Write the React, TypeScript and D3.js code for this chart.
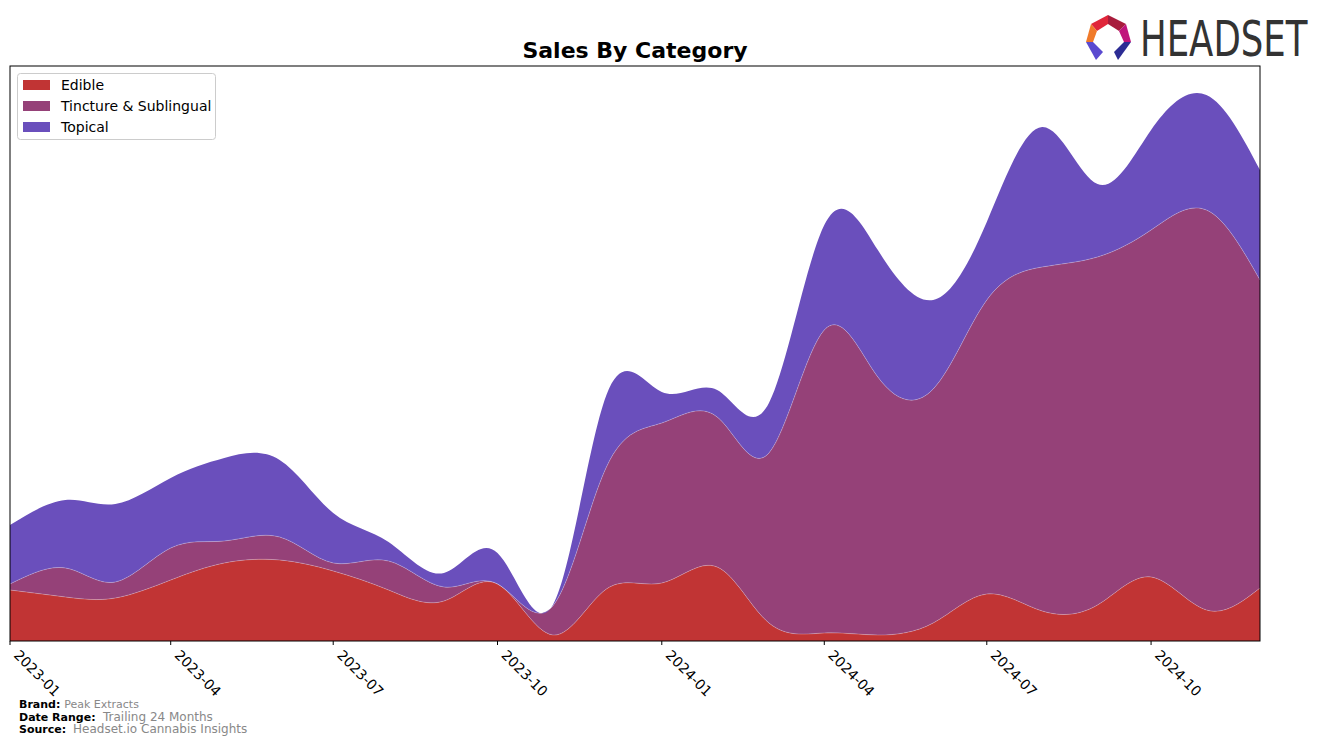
import React from "react";
import * as d3 from "d3";

const months = [
  "2023-01","2023-02","2023-03","2023-04","2023-05","2023-06","2023-07","2023-08","2023-09","2023-10","2023-11","2023-12",
  "2024-01","2024-02","2024-03","2024-04","2024-05","2024-06","2024-07","2024-08","2024-09","2024-10","2024-11","2024-12",
];
const categories = ["Edible", "Tincture & Sublingual", "Topical"];
const edible = [51, 44, 43, 61, 78, 81, 70, 51, 40, 57, 6, 52, 58, 74, 18, 8, 6, 18, 47, 30, 36, 64, 31, 53];
const tincture = [6, 29, 16, 32, 22, 23, 8, 29, 14, 0, 29, 122, 160, 150, 170, 303, 258, 234, 294, 344, 348, 347, 400, 308];
const topical = [59, 68, 78, 70, 83, 77, 50, 19, 14, 31, 1, 72, 31, 27, 50, 105, 127, 89, 78, 140, 73, 100, 115, 110];
const tickLabels = ["2023-01","2023-04","2023-07","2023-10","2024-01","2024-04","2024-07","2024-10"];
const colors = ["#c13434", "#954178", "#6a4fbc"];

const parse = d3.timeParse("%Y-%m");

export default function App() {
  const left = 10, right = 1260, top = 66, bottom = 641;
  const dates = months.map((m) => parse(m) as Date);
  const x = d3.scaleTime().domain([dates[0], dates[dates.length - 1]]).range([left, right]);
  const y = d3.scaleLinear().domain([0, 575]).range([bottom, top]);

  const rows = months.map((m, i) => ({ date: dates[i], e: edible[i], t: tincture[i], p: topical[i] }));
  const stack = d3.stack<any>().keys(["e", "t", "p"]);
  const series = stack(rows);
  const area = d3
    .area<any>()
    .x((d) => x(d.data.date))
    .y0((d) => y(d[0]))
    .y1((d) => y(d[1]))
    .curve(d3.curveNatural);
  const line = d3
    .line<any>()
    .x((d) => x(d.data.date))
    .y((d) => y(d[1]))
    .curve(d3.curveNatural);

  const font = "'DejaVu Sans', sans-serif";

  return (
    <svg width={1324} height={745} style={{ position: "absolute", left: 0, top: 0, background: "#fff" }} fontFamily={font}>
      <defs>
        <clipPath id="plot">
          <rect x={left} y={top} width={right - left} height={bottom - top} />
        </clipPath>
      </defs>
      <text x={635} y={58} textAnchor="middle" fontSize={22} fontWeight="bold" fill="#000">
        Sales By Category
      </text>
      <g clipPath="url(#plot)">
        {series.map((s, i) => (
          <path key={i} d={area(s) || ""} fill={colors[i]} />
        ))}
        {series.slice(0, 2).map((s, i) => (
          <path key={"l" + i} d={line(s) || ""} fill="none" stroke="#ffffff" strokeOpacity={0.3} strokeWidth={0.8} />
        ))}
      </g>
      <rect x={left} y={top} width={right - left} height={bottom - top} fill="none" stroke="#000" strokeWidth={1} />
      {tickLabels.map((t) => {
        const tx = x(parse(t) as Date);
        return (
          <g key={t}>
            <line x1={tx} x2={tx} y1={bottom} y2={bottom + 4} stroke="#000" />
            <text x={0} y={0} fontSize={14} transform={`translate(${tx + 3}, ${bottom + 15}) rotate(45)`} fill="#000">
              {t}
            </text>
          </g>
        );
      })}
      <g>
        <rect x={17.5} y={73.5} width={198} height={66} rx={3} fill="#fff" fillOpacity={0.8} stroke="#ccc" />
        {categories.map((c, i) => (
          <g key={c}>
            <rect x={23} y={80 + i * 21} width={27} height={10} fill={colors[i]} />
            <text x={61} y={90 + i * 21} fontSize={14} fill="#000">
              {c}
            </text>
          </g>
        ))}
      </g>
      <g>
        <text x={19} y={708} fontSize={11} fontWeight="bold" fill="#000">
          Brand: <tspan fontWeight="normal" fill="#888">Peak Extracts</tspan>
        </text>
        <text x={19} y={721} fontSize={11} fontWeight="bold" fill="#000">
          Date Range:
        </text>
        <text x={103} y={721} fontSize={12} fill="#888">
          Trailing 24 Months
        </text>
        <text x={19} y={733} fontSize={11} fontWeight="bold" fill="#000">
          Source:
        </text>
        <text x={73} y={733} fontSize={12} fill="#888">
          Headset.io Cannabis Insights
        </text>
      </g>
      <g>
        <polygon points="1091,24 1108,15 1108,24 1097,31" fill="#e0263a" />
        <polygon points="1108,15 1126,24 1119,31 1108,24" fill="#a81c3c" />
        <polygon points="1126,24 1131,42 1124,42 1119,31" fill="#c0147c" />
        <polygon points="1091,24 1097,31 1093,42 1086,42" fill="#f07a2a" />
        <polygon points="1086,42 1093,42 1103,52 1096,60" fill="#5a4ad0" />
        <polygon points="1131,42 1124,42 1114,52 1118,60" fill="#2c2c94" />
        <text x={0} y={0} fontSize={35.5} fill="#333" transform="translate(1140,56) scale(1,1.38)" fontFamily="'DejaVu Sans', sans-serif">
          HEADSET
        </text>
      </g>
    </svg>
  );
}
